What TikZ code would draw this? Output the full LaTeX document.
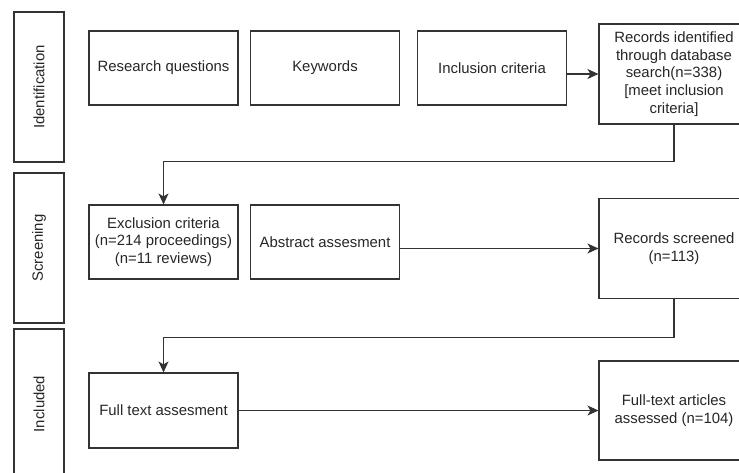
\documentclass[tikz,border=0pt]{standalone}
\usepackage{fontspec}
\setmainfont{Liberation Sans}
\usetikzlibrary{arrows.meta}

\begin{document}
\begin{tikzpicture}[x = 1pt, y = -1pt,
    every node/.style = {font = \fontsize{14.9}{17.8}\selectfont, text = black!85},
    stage/.style = {draw = black!80, line width = 1.1pt, rotate = 90,
        minimum width = 150pt, minimum height = 50pt},
    box/.style = {draw = black!80, line width = 1.1pt, align = center,
        minimum width = 149pt, minimum height = 74pt},
    record/.style = {box, minimum width = 150pt, minimum height = 100pt},
    arr/.style = {draw = black!80, line width = 1.1pt, -{Stealth[length=11pt, width=10pt, inset=3pt]}}]
    % Page frame
    \useasboundingbox (0,0) rectangle (739,472);

    % Stages on the left
    \node[stage] (ident) at (39,87) {Identification};
    \node[stage] (screen) at (39,248) {Screening};
    \node[stage] (incl) at (39,404) {Included};

    % Identification row
    \node[box] (questions) at (163.5,68) {Research questions};
    \node[box] (keywords) at (325,68) {Keywords};
    \node[box] (inclusion) at (492,68) {Inclusion criteria};
    \node[record] (identified) at (674,74) {Records identified\\through database\\search(n=338)\\{[meet inclusion}\\criteria]};

    % Screening row
    \node[box] (exclusion) at (163.5,242) {Exclusion criteria\\(n=214 proceedings)\\(n=11 reviews)};
    \node[box] (abstract) at (325,242) {Abstract assesment};
    \node[record] (screened) at (674,248.5) {Records screened\\(n=113)};

    % Included row
    \node[box, minimum height = 75pt] (fulltext) at (163.5,410.5) {Full text assesment};
    \node[record, minimum height = 99pt] (articles) at (674,410.5) {Full-text articles\\assessed (n=104)};

    % Arrows
    \draw[arr] (inclusion.east |- identified.west) -- (identified.west);
    \draw[arr] (identified.south) -- ++(0,37) -| (exclusion.north);
    \draw[arr] (abstract.east |- screened.west) -- (screened.west);
    \draw[arr] (screened.south) -- ++(0,38) -| (fulltext.north);
    \draw[arr] (fulltext.east) -- (articles.west);
\end{tikzpicture}
\end{document}
